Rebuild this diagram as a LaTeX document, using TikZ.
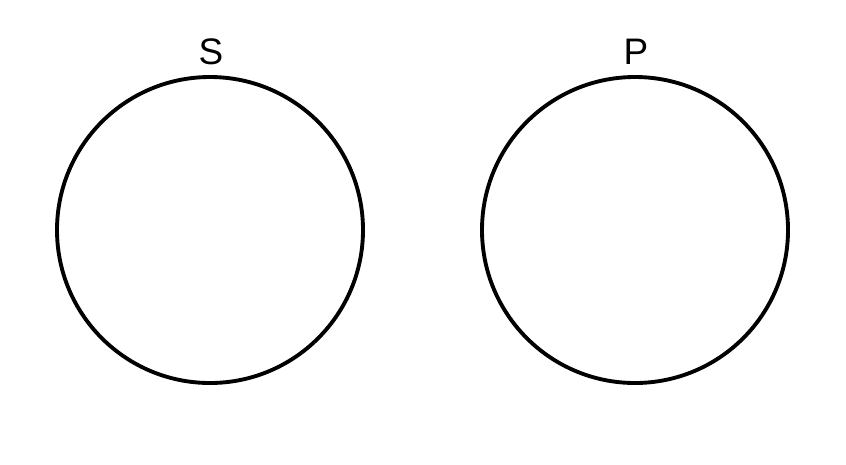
\documentclass[tikz,border=0pt]{standalone}
\usepackage{fontspec}
\setmainfont{Liberation Sans}
\usetikzlibrary{positioning}

\begin{document}
\begin{tikzpicture}
        % frame of the picture
        \useasboundingbox (0,0) rectangle (8.46,4.64);

        % draw the sets
        \draw[line width=1.1pt] (2.10,2.34) circle (1.53cm);
        \draw[line width=1.1pt] (6.35,2.34) circle (1.53cm);

        % the texts
        \node[font=\fontsize{10.5}{12}\selectfont] (S) at (2.11,4.12) {S};
        \node[font=\fontsize{10.5}{12}\selectfont] (P) at (6.36,4.12) {P};
    \end{tikzpicture}
\end{document}
